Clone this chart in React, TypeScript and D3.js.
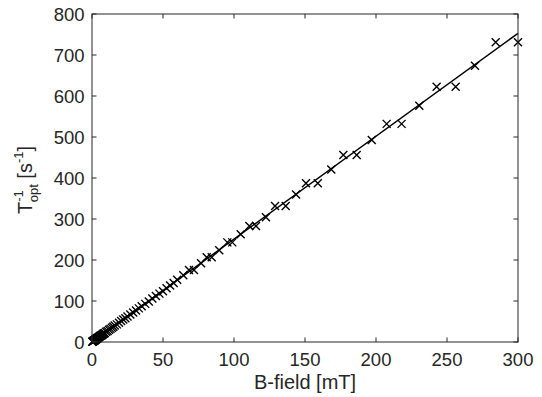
import React from "react";
import * as d3 from "d3";

const xTicks = [0, 50, 100, 150, 200, 250, 300];
const yTicks = [0, 100, 200, 300, 400, 500, 600, 700, 800];

const bField = [0.2, 0.5, 0.8, 1, 1.3, 1.5, 1.8, 2, 2.3, 2.5, 2.8, 3, 3.3, 3.5, 3.8, 4, 4.5, 5, 5.5, 6, 6.5, 7, 7.5, 8, 8.5, 9, 10, 11, 12, 13, 14, 15, 16, 17.5, 19, 20.5, 22, 23.5, 25, 27, 29, 31, 33, 35, 37.5, 40, 42.5, 45, 47.5, 50, 52.5, 55, 57.5, 60, 64.3, 68.3, 71.8, 76.8, 80.8, 84.3, 89.6, 95.3, 98.8, 104.7, 110.8, 115.5, 122.5, 128.9, 136.4, 143.7, 150.7, 159, 168.5, 177, 186.4, 197, 207.5, 218, 230.5, 242.7, 256.1, 269.7, 284.3, 300];
const rate = [0.5, 1, 2, 2.5, 3, 3.5, 4.5, 5, 5.5, 6, 7, 7.5, 8, 8.5, 9.5, 10, 11, 12, 14, 15, 16, 17, 18.5, 20, 21, 22, 25, 27, 30, 32, 35, 37, 40, 43, 47, 51, 55, 58, 62, 67, 72, 77, 82, 87, 93, 99, 106, 112, 118, 124, 131, 138, 144, 152, 163, 175.6, 175.6, 192, 206.5, 206.5, 224, 243, 243, 262.7, 283, 283, 304, 331.7, 331.7, 360, 387, 387, 421, 456, 456, 492.7, 532, 532, 576, 622.7, 622.7, 674, 731, 731];
const fitB = [0, 300];
const fitRate = [0, 753];

const W = 542, H = 397;
const left = 92, right = 518, top = 14, bottom = 342;
const ink = "#262626";
const font = "Liberation Sans, Arial, Helvetica, sans-serif";

export default function App() {
  const x = d3.scaleLinear().domain([0, 300]).range([left, right]);
  const y = d3.scaleLinear().domain([0, 800]).range([bottom, top]);
  const line = d3.line<number>().x((d, i) => x(fitB[i])).y((d) => y(d));
  const tl = 4.5;
  const m = 4;
  return (
    <svg width={W} height={H} style={{ position: "absolute", left: 0, top: 0, background: "#fff" }}>
      <rect x={0} y={0} width={W} height={H} fill="#fff" />
      <path d={line(fitRate) || ""} fill="none" stroke="#000" strokeWidth={1.5} />
      {bField.map((b, i) => {
        const cx = x(b), cy = y(rate[i]);
        return (
          <path key={i} d={`M${cx - m},${cy - m}L${cx + m},${cy + m}M${cx - m},${cy + m}L${cx + m},${cy - m}`} stroke="#000" strokeWidth={1.4} fill="none" />
        );
      })}
      <rect x={left} y={top} width={right - left} height={bottom - top} fill="none" stroke={ink} strokeWidth={1} />
      {xTicks.map((t) => (
        <g key={"x" + t}>
          <line x1={x(t)} x2={x(t)} y1={bottom} y2={bottom - tl} stroke={ink} />
          <line x1={x(t)} x2={x(t)} y1={top} y2={top + tl} stroke={ink} />
          <text x={x(t)} y={bottom + 24} textAnchor="middle" fontFamily={font} fontSize={18.5} fill={ink}>{t}</text>
        </g>
      ))}
      {yTicks.map((t) => (
        <g key={"y" + t}>
          <line x1={left} x2={left + tl} y1={y(t)} y2={y(t)} stroke={ink} />
          <line x1={right} x2={right - tl} y1={y(t)} y2={y(t)} stroke={ink} />
          <text x={left - 7.5} y={y(t) + 6.6} textAnchor="end" fontFamily={font} fontSize={18.5} fill={ink}>{t}</text>
        </g>
      ))}
      <text x={(left + right) / 2} y={bottom + 47} textAnchor="middle" fontFamily={font} fontSize={20} fill={ink}>B-field [mT]</text>
      <g transform={`translate(32, 180) rotate(-90)`}>
        <text x={0} y={0} textAnchor="middle" fontFamily={font} fontSize={20} fill={ink}>
          <tspan>T</tspan>
          <tspan fontSize={13} dy={-9}>-1</tspan>
          <tspan fontSize={13} dx={-12} dy={15}>opt</tspan>
          <tspan dy={-6}>{" [s"}</tspan>
          <tspan fontSize={13} dy={-9}>-1</tspan>
          <tspan dy={9}>]</tspan>
        </text>
      </g>
    </svg>
  );
}
